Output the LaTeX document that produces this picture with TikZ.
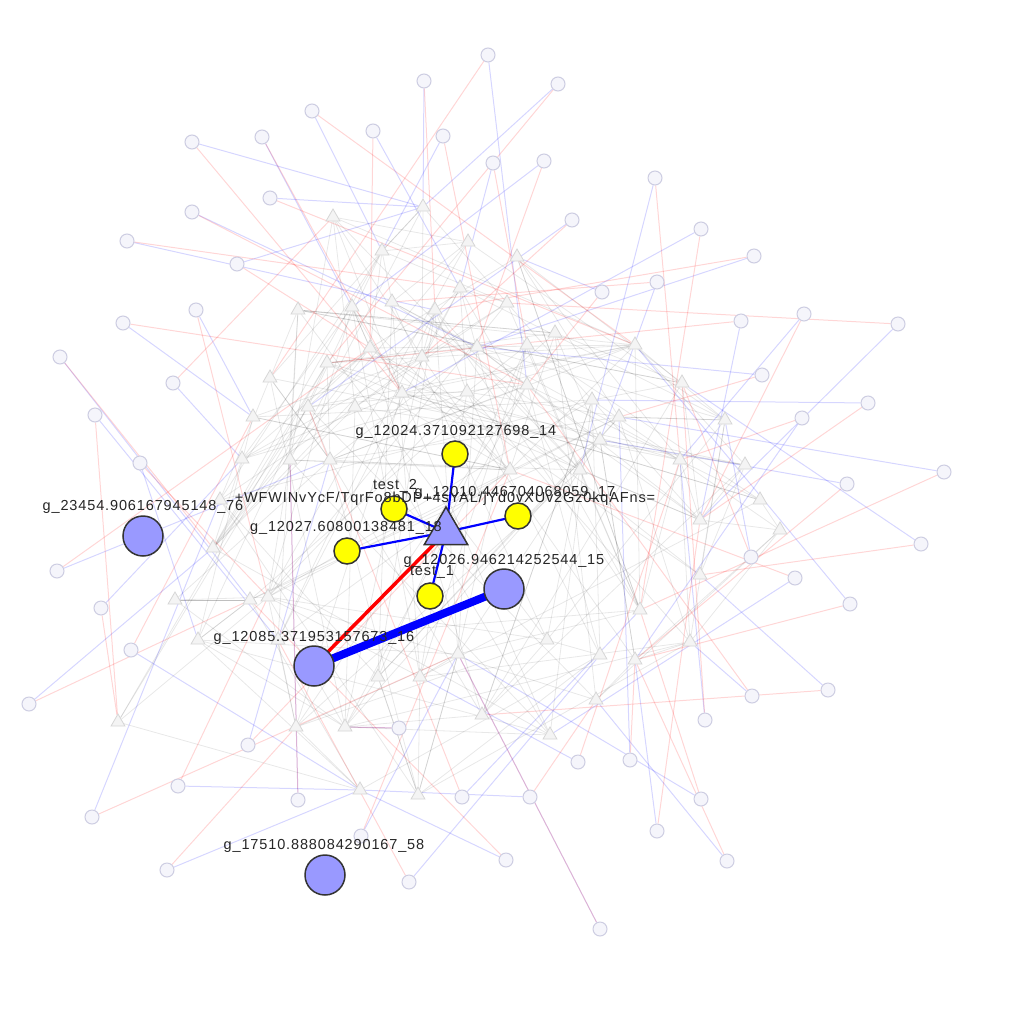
\documentclass[tikz,border=0pt]{standalone}
\usepackage{fontspec}
\setmainfont{Liberation Sans}
\newfontfamily\lblfont[LetterSpace=6]{Liberation Sans}
\usetikzlibrary{shapes.geometric}
\definecolor{bgcdraw}{HTML}{CDCDE2}
\definecolor{bgcfill}{HTML}{F5F5FB}
\definecolor{bgtdraw}{HTML}{D6D6D6}
\definecolor{bgtfill}{HTML}{F4F4F4}
\definecolor{nodeblue}{HTML}{9999FF}
\definecolor{nodeyellow}{HTML}{FFFF00}
\definecolor{outline}{HTML}{333333}
\definecolor{txt}{HTML}{262626}
\pgfdeclarelayer{bgedges}
\pgfdeclarelayer{bgnodes}
\pgfdeclarelayer{fgedges}
\pgfdeclarelayer{paper}
\pgfsetlayers{paper,bgedges,bgnodes,fgedges,main}
\newcommand\pickneartri[2]{%
  \def\accepted{0}%
  \loop
    \pgfmathrandominteger{\picked}{1}{64}%
    \pgfpointdiff{\pgfpointanchor{#1}{center}}{\pgfpointanchor{t\picked}{center}}%
    \pgfgetlastxy{\ddx}{\ddy}%
    \pgfmathveclen{\ddx}{\ddy}%
    \ifdim\pgfmathresult pt<#2pt \def\accepted{1}\fi
  \ifnum\accepted=0 \repeat}
\begin{document}
\begin{tikzpicture}[x=1pt,y=-1pt,
  bgc/.style={circle,minimum size=14pt,inner sep=0pt,draw=bgcdraw,fill=bgcfill,line width=1pt},
  bgt/.style={regular polygon,regular polygon sides=3,minimum size=16pt,inner sep=0pt,draw=bgtdraw,fill=bgtfill,line width=0.8pt},
  gedge/.style={draw=black,opacity=0.09,line width=0.8pt},
  bedge/.style={draw=blue,opacity=0.16,line width=1pt},
  redge/.style={draw=red,opacity=0.16,line width=1pt},
  yel/.style={circle,minimum size=26pt,inner sep=0pt,draw=outline,fill=nodeyellow,line width=1.5pt},
  bl/.style={circle,minimum size=40pt,inner sep=0pt,draw=outline,fill=nodeblue,line width=1.5pt},
  tri/.style={regular polygon,regular polygon sides=3,minimum size=50pt,inner sep=0pt,draw=outline,fill=nodeblue,line width=1.5pt},
  fgblue/.style={draw=blue,line width=2.2pt},
  lbl/.style={font=\lblfont\fontsize{14.5}{16}\selectfont,text=txt,inner sep=0pt}
]
\useasboundingbox (0,0) rectangle (1024,1020);
\begin{pgfonlayer}{paper}
\fill[white] (0,0) rectangle (1024,1020);
\end{pgfonlayer}

% background peripheral circles
\begin{pgfonlayer}{bgnodes}
\foreach \n/\x/\y in {1/488/55,2/424/81,3/312/111,4/262/137,5/192/142,6/373/131,7/443/136,8/493/163,
  9/192/212,10/270/198,11/127/241,12/237/264,13/196/310,14/123/323,15/60/357,16/173/383,17/95/415,
  18/558/84,19/544/161,20/572/220,21/655/178,22/701/229,23/754/256,24/602/292,25/657/282,26/741/321,
  27/804/314,28/898/324,29/762/375,30/868/403,31/802/418,32/140/463,33/944/472,34/847/484,35/57/571,
  36/101/608,37/131/650,38/29/704,39/92/817,40/167/870,41/178/786,42/248/745,43/298/800,44/409/882,
  45/462/797,46/506/860,47/530/797,48/578/762,49/600/929,50/630/760,51/657/831,52/701/799,53/727/861,
  54/705/720,55/752/696,56/828/690,57/850/604,58/795/578,59/751/557,60/921/544,61/361/836,62/399/728}
  \node[bgc] (c\n) at (\x,\y) {};
% background triangles
\foreach \n/\x/\y in {1/333/217,2/423/207,3/382/251,4/392/302,5/402/393,6/468/242,7/460/288,8/435/310,
  9/352/307,10/298/310,11/370/348,12/422/357,13/477/347,14/327/363,15/270/378,16/308/407,17/355/407,
  18/253/417,19/467/392,20/507/303,21/517/257,22/555/333,23/527/345,24/527/385,25/592/400,26/619/417,
  27/725/420,28/635/345,29/682/383,30/242/459,31/290/460,32/580/470,33/680/460,34/745/465,35/760/500,
  36/700/520,37/640/610,38/700/575,39/690/642,40/635/660,41/600/655,42/547/640,43/550/735,44/482/715,
  45/458/654,46/420/677,47/378/677,48/345/727,49/296/727,50/278/640,51/250/600,52/198/640,53/175/600,
  54/268/597,55/213/548,56/118/722,57/360/790,58/418/795,59/596/700,60/510/470,61/600/440,62/330/460,
  63/780/530,64/220/500}
  \node[bgt] (t\n) at (\x,\y) {};
\end{pgfonlayer}

% background edges
\begin{pgfonlayer}{bgedges}
\pgfmathsetseed{7}
\foreach \i in {1,...,64}{
  \foreach \k in {1,...,4}{
    \pickneartri{t\i}{420}
    \draw[gedge] (t\i) -- (t\picked);
  }
}
\foreach \i in {1,...,62}{
  \pickneartri{c\i}{360}
  \draw[bedge] (c\i) -- (t\picked);
  \pickneartri{c\i}{420}
  \draw[redge] (c\i) -- (t\picked);
}
\end{pgfonlayer}

% foreground nodes
\node[tri] (T) at (446,532) {};
\node[yel] (y14) at (455,454) {};
\node[yel] (y17) at (518,516) {};
\node[yel] (ytest2) at (394,509) {};
\node[yel] (y18) at (347,551) {};
\node[yel] (ytest1) at (430,596) {};
\node[bl] (b15) at (504,589) {};
\node[bl] (b16) at (314,666) {};
\node[bl] (b76) at (143,536) {};
\node[bl] (b58) at (325,875) {};

% foreground edges
\begin{pgfonlayer}{fgedges}
\draw[draw=blue,line width=8pt] (b16.center) -- (b15.center);
\draw[draw=red,line width=3.5pt] (b16.center) -- (T.center);
\foreach \y in {y14,y17,ytest2,y18,ytest1}
  \draw[fgblue] (T.center) -- (\y.center);
\end{pgfonlayer}

% labels
\node[lbl] (l14) at (456,432) {g\_12024.371092127698\_14};
\node[lbl] (ltest2) at (395,486) {test\_2};
\node[lbl] (l17) at (515,493) {g\_12010.446704068059\_17};
\node[lbl] (lT) at (445,499) {+WFWINvYcF/TqrFo8bDP+4sYAL/jYd0vXUv2Gz0kqAFns=};
\node[lbl] (l18) at (346,528) {g\_12027.60800138481\_18};
\node[lbl] (l15) at (504,561) {g\_12026.946214252544\_15};
\node[lbl] (ltest1) at (432,572) {test\_1};
\node[lbl] (l16) at (314,638) {g\_12085.371953157673\_16};
\node[lbl] (l76) at (143,507) {g\_23454.906167945148\_76};
\node[lbl] (l58) at (324,846) {g\_17510.888084290167\_58};
\end{tikzpicture}
\end{document}
